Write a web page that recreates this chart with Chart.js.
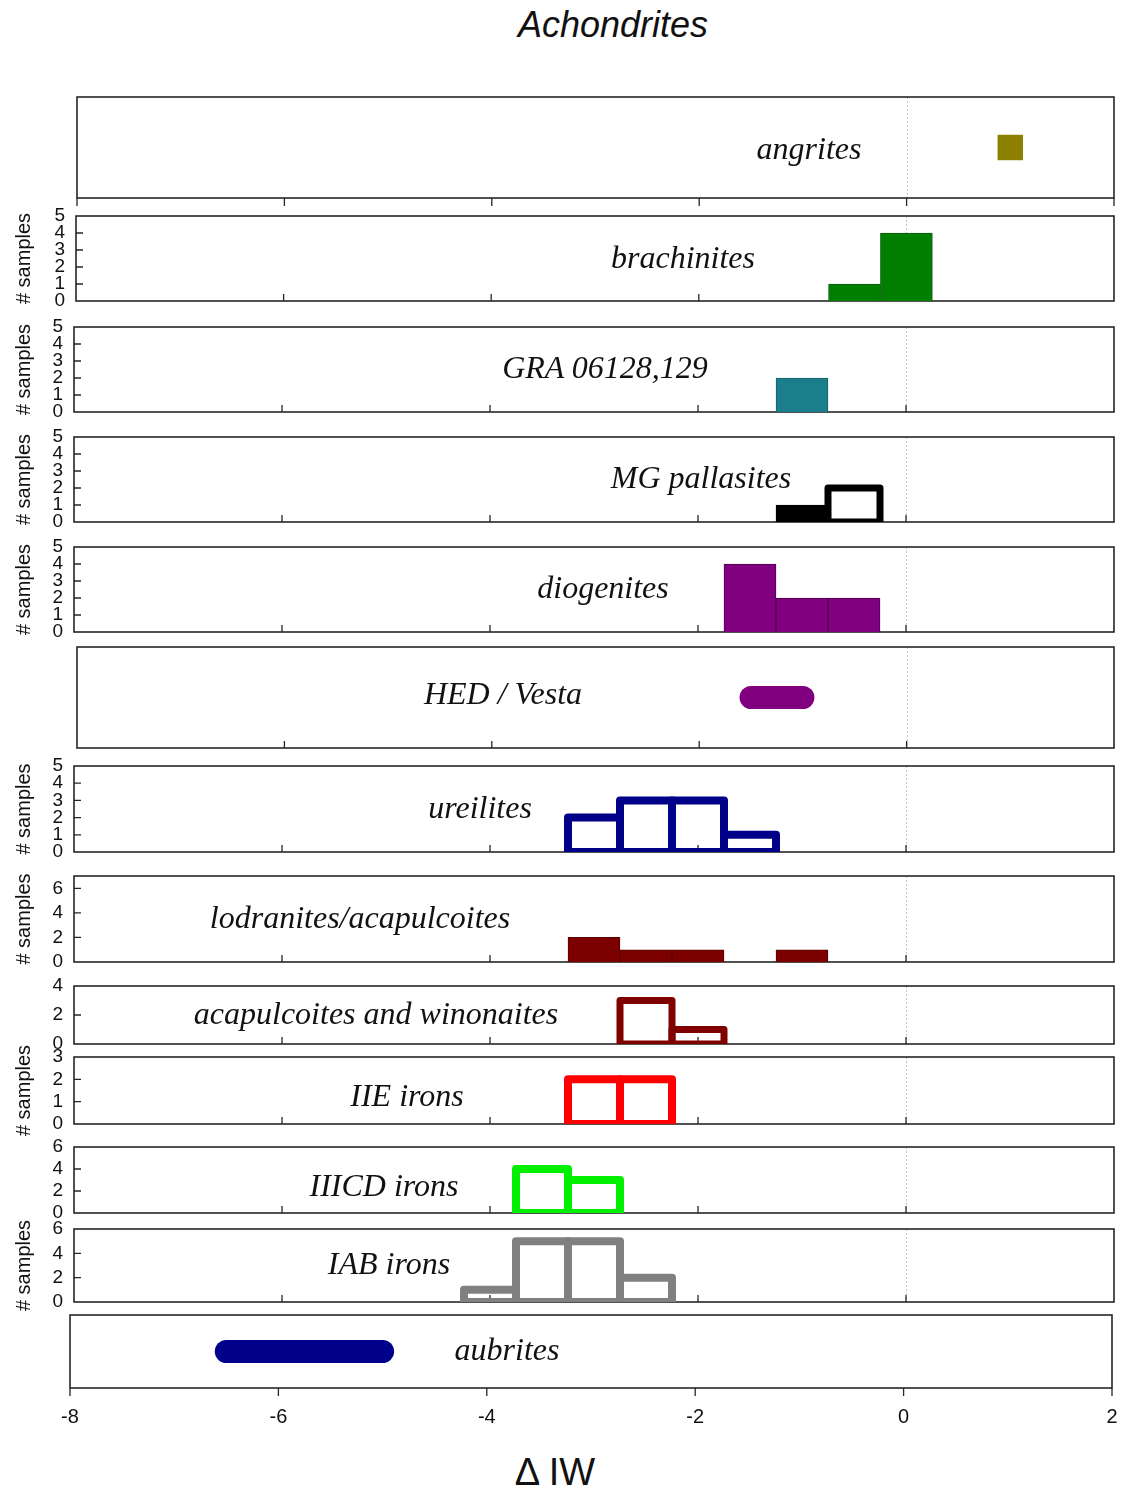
<!DOCTYPE html>
<html>
<head>
<meta charset="utf-8">
<title>Achondrites</title>
<script src="https://cdn.jsdelivr.net/npm/chart.js@4.4.1/dist/chart.umd.min.js"></script>
<style>
  html, body { margin: 0; padding: 0; background: #fff; }
  #fig { position: relative; width: 1122px; height: 1492px; overflow: hidden; background: #fff; }
  #fig canvas { position: absolute; left: 0; }
  .lbl { position: absolute; transform: translate(-50%, -50%); white-space: nowrap; line-height: 1;
         font: italic 32px "Liberation Serif", "Times New Roman", serif; color: #111; }
  #title { position: absolute; left: 613px; top: 25px; transform: translate(-50%, -50%); line-height: 1;
           font: italic 36px "Liberation Sans", Arial, sans-serif; color: #111; white-space: nowrap; }
  #xlabel { position: absolute; left: 555px; top: 1472px; transform: translate(-50%, -50%); line-height: 1;
            font: 38px "Liberation Sans", Arial, sans-serif; color: #111; white-space: nowrap; }
</style>
</head>
<body>
<div id="fig">
  <div id="title">Achondrites</div>
  <div id="xlabel">Δ IW</div>
</div>
<script>
// ---- data: ΔIW bin centres (bin width 0.5) and sample counts ----
const xMin = -8;
const xMax = 2;
const xTickStep = 2;
const binWidth = 0.5;

const angritesIW = [1.0];

const brachinitesBins = [-0.5, 0.0];
const brachinitesCounts = [1, 4];

const graBins = [-1.0];
const graCounts = [2];

const mgFilledBins = [-1.0];
const mgFilledCounts = [1];
const mgOpenBins = [-0.5];
const mgOpenCounts = [2];

const diogenitesBins = [-1.5, -1.0, -0.5];
const diogenitesCounts = [4, 2, 2];

const hedVestaRange = [-1.5, -1.0];

const ureilitesBins = [-3.0, -2.5, -2.0, -1.5];
const ureilitesCounts = [2, 3, 3, 1];

const lodranitesBins = [-3.0, -2.5, -2.0, -1.0];
const lodranitesCounts = [2, 1, 1, 1];

const acapWinBins = [-2.5, -2.0];
const acapWinCounts = [3, 1];

const iieBins = [-3.0, -2.5];
const iieCounts = [2, 2];

const iiicdBins = [-3.5, -3.0];
const iiicdCounts = [4, 3];

const iabBins = [-4.0, -3.5, -3.0, -2.5];
const iabCounts = [1, 5, 5, 2];

const aubritesRange = [-6.5, -5.0];

// ---- dataset builders ----
const LEVEL = 0.5; // vertical level for range bars / markers on count-less panels

function filledBars(bins, counts, color, edge, p) {
  const pxPerUnit = (p.right - p.left) / (xMax - xMin);
  return [{
    type: 'bar',
    data: bins.map((b, i) => ({ x: b, y: counts[i] })),
    backgroundColor: color,
    borderColor: edge,
    borderWidth: 1,
    borderSkipped: 'start',
    barThickness: binWidth * pxPerUnit
  }];
}

function openBoxes(bins, counts, color, width) {
  return bins.map((b, i) => {
    const x0 = b - binWidth / 2, x1 = b + binWidth / 2, h = counts[i];
    return {
      type: 'line',
      data: [{ x: x0, y: 0 }, { x: x0, y: h }, { x: x1, y: h }, { x: x1, y: 0 }, { x: x0, y: 0 }],
      borderColor: color,
      borderWidth: width,
      borderJoinStyle: 'round',
      borderCapStyle: 'round',
      pointRadius: 0,
      fill: false,
      tension: 0
    };
  });
}

function rangeBar(range, color) {
  return [{
    type: 'line',
    data: range.map(v => ({ x: v, y: LEVEL })),
    borderColor: color,
    borderWidth: 23,
    borderCapStyle: 'round',
    pointRadius: 0,
    fill: false
  }];
}

function marker(xs, color) {
  return [{
    type: 'line',
    showLine: false,
    data: xs.map(v => ({ x: v, y: LEVEL })),
    pointStyle: 'rect',
    pointRadius: 18,
    pointBackgroundColor: color,
    pointBorderWidth: 0
  }];
}

// ---- panel layout ----
const CANVAS_W = 1170;
const PAD_T = 26;
const PAD_B = 26;
const panels = [
  { label: 'angrites', lx: 809, ly: 148, top: 97, bottom: 198, left: 77, right: 1114, yMax: 1, showY: false, tickOut: true,
    sets: p => marker(angritesIW, '#8b8000') },
  { label: 'brachinites', lx: 683, ly: 257, top: 216, bottom: 301, left: 76, right: 1114, yMax: 5, yStep: 1, showY: true, yTitle: true,
    sets: p => filledBars(brachinitesBins, brachinitesCounts, '#017f01', '#0a5a0a', p) },
  { label: 'GRA 06128,129', lx: 605, ly: 367, top: 327, bottom: 412, left: 74, right: 1114, yMax: 5, yStep: 1, showY: true, yTitle: true,
    sets: p => filledBars(graBins, graCounts, '#1b7f8b', '#145f68', p) },
  { label: 'MG pallasites', lx: 701, ly: 477, top: 437, bottom: 522, left: 74, right: 1114, yMax: 5, yStep: 1, showY: true, yTitle: true,
    sets: p => filledBars(mgFilledBins, mgFilledCounts, '#000000', '#000000', p).concat(openBoxes(mgOpenBins, mgOpenCounts, '#000000', 7)) },
  { label: 'diogenites', lx: 603, ly: 587, top: 547, bottom: 632, left: 74, right: 1114, yMax: 5, yStep: 1, showY: true, yTitle: true,
    sets: p => filledBars(diogenitesBins, diogenitesCounts, '#800080', '#4d004d', p) },
  { label: 'HED / Vesta', lx: 503, ly: 693, top: 647, bottom: 748, left: 77, right: 1114, yMax: 1, showY: false,
    sets: p => rangeBar(hedVestaRange, '#800080') },
  { label: 'ureilites', lx: 480, ly: 807, top: 766, bottom: 852, left: 74, right: 1114, yMax: 5, yStep: 1, showY: true, yTitle: true,
    sets: p => openBoxes(ureilitesBins, ureilitesCounts, '#000088', 8) },
  { label: 'lodranites/acapulcoites', lx: 360, ly: 917, top: 876, bottom: 962, left: 74, right: 1114, yMax: 7, yStep: 2, showY: true, yTitle: true,
    sets: p => filledBars(lodranitesBins, lodranitesCounts, '#7d0000', '#5a0000', p) },
  { label: 'acapulcoites and winonaites', lx: 376, ly: 1013, top: 986, bottom: 1044, left: 74, right: 1114, yMax: 4, yStep: 2, showY: true,
    sets: p => openBoxes(acapWinBins, acapWinCounts, '#800000', 7) },
  { label: 'IIE irons', lx: 407, ly: 1095, top: 1057, bottom: 1124, left: 74, right: 1114, yMax: 3, yStep: 1, showY: true, yTitle: true,
    sets: p => openBoxes(iieBins, iieCounts, '#ff0000', 8) },
  { label: 'IIICD irons', lx: 384, ly: 1185, top: 1147, bottom: 1213, left: 74, right: 1114, yMax: 6, yStep: 2, showY: true,
    sets: p => openBoxes(iiicdBins, iiicdCounts, '#00f000', 8) },
  { label: 'IAB irons', lx: 389, ly: 1263, top: 1229, bottom: 1302, left: 74, right: 1114, yMax: 6, yStep: 2, showY: true, yTitle: true,
    sets: p => openBoxes(iabBins, iabCounts, '#808080', 8) },
  { label: 'aubrites', lx: 507, ly: 1349, top: 1315, bottom: 1388, left: 70, right: 1112, yMax: 1, showY: false, tickOut: true, xLabels: true, noZero: true,
    sets: p => rangeBar(aubritesRange, '#00008a') }
];

// frame, inward/outward tick marks and the dotted ΔIW = 0 guide
const framePlugin = {
  id: 'frame',
  beforeDatasetsDraw(chart, args, opts) {
    const { ctx, chartArea: a, scales: { x, y } } = chart;
    ctx.save();
    if (opts.zeroLine) {
      const zx = Math.round(x.getPixelForValue(0)) + 0.5;
      ctx.strokeStyle = '#c4c4c4';
      ctx.lineWidth = 1;
      ctx.setLineDash([2, 2]);
      ctx.beginPath(); ctx.moveTo(zx, a.top); ctx.lineTo(zx, a.bottom); ctx.stroke();
      ctx.setLineDash([]);
    }
    ctx.strokeStyle = '#262626';
    ctx.lineWidth = 1.6;
    ctx.strokeRect(a.left, a.top, a.right - a.left, a.bottom - a.top);
    ctx.lineWidth = 1.3;
    ctx.beginPath();
    x.ticks.forEach(t => {
      const inside = t.value > x.min && t.value < x.max;
      if (!inside && !opts.tickOut) return;
      const px = x.getPixelForValue(t.value);
      ctx.moveTo(px, a.bottom);
      ctx.lineTo(px, a.bottom + (opts.tickOut ? 8 : -7));
    });
    if (opts.yTicks) {
      y.ticks.forEach(t => {
        if (t.value <= y.min || t.value >= y.max) return;
        const py = y.getPixelForValue(t.value);
        ctx.moveTo(a.left, py);
        ctx.lineTo(a.left + 7, py);
      });
    }
    ctx.stroke();
    ctx.restore();
  }
};

Chart.defaults.font.family = '"Liberation Sans", Arial, sans-serif';
Chart.defaults.color = '#111';

const fig = document.getElementById('fig');

panels.forEach(p => {
  const padB = p.xLabels ? 52 : PAD_B;
  const h = (p.bottom - p.top) + PAD_T + padB;
  const cv = document.createElement('canvas');
  cv.width = CANVAS_W; cv.height = h;
  cv.style.width = CANVAS_W + 'px'; cv.style.height = h + 'px';
  cv.style.top = (p.top - PAD_T) + 'px';
  fig.appendChild(cv);

  new Chart(cv, {
    type: 'line',
    data: { datasets: p.sets(p) },
    options: {
      responsive: false,
      animation: false,
      events: [],
      layout: { autoPadding: false, padding: { top: PAD_T, right: CANVAS_W - p.right, bottom: 0, left: 0 } },
      plugins: {
        legend: { display: false },
        tooltip: { enabled: false },
        frame: { tickOut: !!p.tickOut, yTicks: !!p.showY, zeroLine: !p.noZero }
      },
      scales: {
        x: {
          type: 'linear', min: xMin, max: xMax, offset: false,
          grid: { display: false, drawTicks: false }, border: { display: false },
          ticks: { stepSize: xTickStep, display: !!p.xLabels, padding: 17, autoSkip: false, maxRotation: 0,
                   font: { size: 20 }, color: '#111' },
          afterFit: s => { s.height = padB; }
        },
        y: {
          type: 'linear', min: 0, max: p.yMax,
          grid: { display: false, drawTicks: false }, border: { display: false },
          ticks: { stepSize: p.yStep || 1, display: !!p.showY, padding: 11, autoSkip: false, includeBounds: false,
                   font: { size: 19 }, color: '#111' },
          title: { display: !!p.yTitle, text: '# samples', font: { size: 20 }, color: '#111', padding: { top: 12, bottom: 0 } },
          afterFit: s => { s.width = p.left; }
        }
      }
    },
    plugins: [framePlugin]
  });

  const d = document.createElement('div');
  d.className = 'lbl';
  d.textContent = p.label;
  d.style.left = p.lx + 'px';
  d.style.top = p.ly + 'px';
  fig.appendChild(d);
});
</script>
</body>
</html>
